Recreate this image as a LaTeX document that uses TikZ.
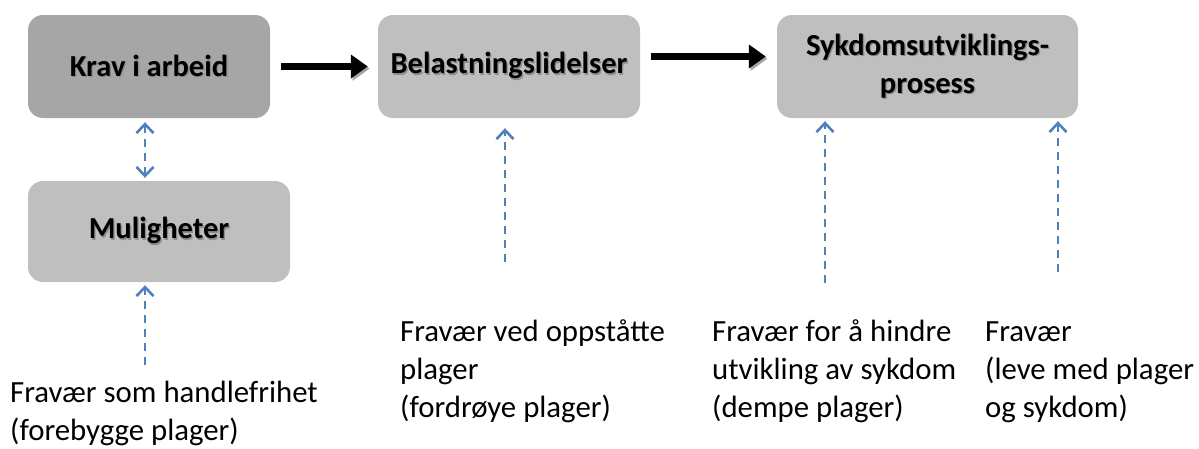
\documentclass[tikz,border=0pt]{standalone}
\usepackage{fontspec}
\setmainfont{Carlito}
\usetikzlibrary{arrows.meta,calc}
\definecolor{boxdark}{HTML}{A6A6A6}
\definecolor{boxlight}{HTML}{BFBFBF}
\definecolor{dashblue}{HTML}{4F81BD}
\newcommand\shd[1]{\rlap{\kern1.3pt\raisebox{-1.3pt}{\textcolor{black!45}{#1}}}#1}
\tikzset{
  box/.style={rounded corners=15pt, inner sep=0pt, align=center,
    font=\fontsize{30.5}{38}\selectfont\bfseries},
  bigarrow/.style={line width=7pt, draw=black,
    -{Triangle[length=17pt,width=23pt]},
    preaction={draw=black!35, transform canvas={shift={(1.8pt,-2.2pt)}}}},
  dasharrow/.style={line width=2.6pt, draw=dashblue, dash pattern=on 8pt off 6pt,
    -{Straight Barb[length=9pt,width=17pt,line width=2.6pt]}},
  dasharrowboth/.style={dasharrow,
    {Straight Barb[length=9pt,width=17pt,line width=2.6pt]}-{Straight Barb[length=9pt,width=17pt,line width=2.6pt]}},
  note/.style={inner sep=0pt, anchor=base west, align=left,
    font=\fontsize{30.8}{38}\selectfont}
}
\begin{document}
\begin{tikzpicture}[x=1pt,y=-1pt]
\useasboundingbox (0,0) rectangle (1199,448);
\node[box, fill=boxdark, minimum width=242pt, minimum height=103pt] (krav) at (149,66.5) {\shd{Krav i arbeid}};
\node[box, fill=boxlight, minimum width=262pt, minimum height=101pt] (mul) at (159,231.5) {\shd{Muligheter}};
\node[box, fill=boxlight, minimum width=262pt, minimum height=103pt] (bel) at (509,66.5) {\shd{Belastningslidelser}};
\node[box, fill=boxlight, minimum width=301pt, minimum height=103pt] (syk) at (927.5,66.5) {\shd{Sykdomsutviklings-}\\\shd{prosess}};

\draw[bigarrow] ($(krav.east)+(11,0)$) -- ($(bel.west)+(-10,0)$);
\draw[bigarrow] ($(bel.east)+(11,-10)$) -- ($(syk.west)+(-11,-10)$);

\draw[dasharrowboth] ($(krav.south)+(-4,4)$) -- ($(mul.north)+(-14,-3)$);

% anchor base west = baseline of last line
\node[note] (n1) at (10,440) {Fravær som handlefrihet\\(forebygge plager)};
\node[note] (n2) at (400,417) {Fravær ved oppståtte\\plager\\(fordrøye plager)};
\node[note] (n3) at (712,417) {Fravær for å hindre\\utvikling av sykdom\\(dempe plager)};
\node[note] (n4) at (985,417) {Fravær\\(leve med plager\\og sykdom)};

\coordinate (t1) at (145,365);
\coordinate (t2) at (505,262);
\coordinate (t3) at (825,283);
\coordinate (t4) at (1058,272);
\draw[dasharrow] (t1) -- ($(mul.south)+(-14,3)$);
\draw[dasharrow] (t2) -- ($(bel.south)+(-4,10)$);
\draw[dasharrow] (t3) -- (t3 |- {$(syk.south)+(0,3)$});
\draw[dasharrow] (t4) -- (t4 |- {$(syk.south)+(0,3)$});
\end{tikzpicture}
\end{document}
